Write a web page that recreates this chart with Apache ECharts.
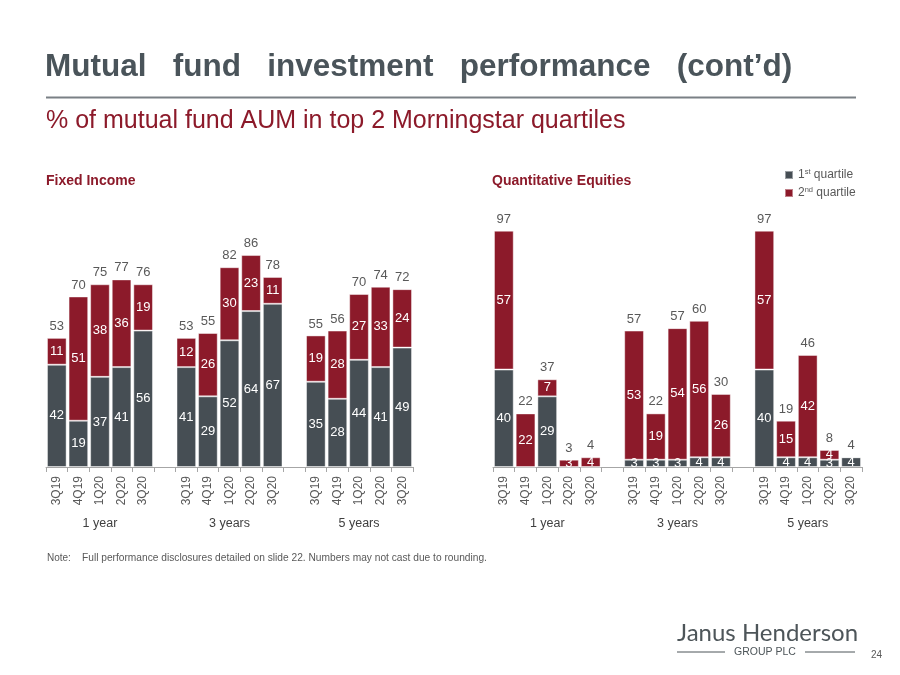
<!DOCTYPE html>
<html>
<head>
<meta charset="utf-8">
<script src="https://cdn.jsdelivr.net/npm/echarts@6/dist/echarts.min.js"></script>
<style>html,body{margin:0;padding:0;background:#fff;}#c{width:900px;height:675px;}</style>
</head>
<body>
<div id="c"></div>
<script>
// ---- data ----
const quarters = ['3Q19', '4Q19', '1Q20', '2Q20', '3Q20'];
const horizons = ['1 year', '3 years', '5 years'];

// Fixed Income (per horizon: 1 year, 3 years, 5 years)
const fiFirst  = [[42, 19, 37, 41, 56], [41, 29, 52, 64, 67], [35, 28, 44, 41, 49]];
const fiSecond = [[11, 51, 38, 36, 19], [12, 26, 30, 23, 11], [19, 28, 27, 33, 24]];
const fiTotal  = [[53, 70, 75, 77, 76], [53, 55, 82, 86, 78], [55, 56, 70, 74, 72]];

// Quantitative Equities
const qeFirst  = [[40, 0, 29, 0, 0], [3, 3, 3, 4, 4], [40, 4, 4, 3, 4]];
const qeSecond = [[57, 22, 7, 3, 4], [53, 19, 54, 56, 26], [57, 15, 42, 4, 0]];
const qeTotal  = [[97, 22, 37, 3, 4], [57, 22, 57, 60, 30], [97, 19, 46, 8, 4]];

const seriesNames = ['1st quartile', '2nd quartile'];

// ---- helpers ----
function flat(groups) {
  const out = [];
  groups.forEach((g, i) => {
    g.forEach(v => out.push(v));
    if (i < groups.length - 1) out.push(null);
  });
  return out;
}
const cats = flat(horizons.map(() => quarters)).map(v => v == null ? '' : v);
const groupCats = flat(horizons.map(h => quarters.map((q, i) => i === 2 ? h : ''))).map(v => v == null ? '' : v);

const GRAY = '#464e54', RED = '#8c1a2a', TXT = '#595959';

function xAxes(gi) {
  return [{
    type: 'category', gridIndex: gi, data: cats, position: 'bottom',
    axisLine: { lineStyle: { color: '#a6a6a6', width: 1 } },
    axisTick: { show: true, length: 5, lineStyle: { color: '#a6a6a6' } },
    axisLabel: { rotate: 90, interval: 0, fontSize: 12, color: TXT, margin: 9, fontFamily: 'Liberation Sans' }
  }, {
    type: 'category', gridIndex: gi, data: groupCats, position: 'bottom', offset: 0,
    axisLine: { show: false }, axisTick: { show: false },
    axisLabel: { interval: 0, fontSize: 12.5, color: '#404040', margin: 50, fontFamily: 'Liberation Sans' }
  }];
}
function yAxis(gi) {
  return { type: 'value', gridIndex: gi, min: 0, max: 110, show: false, splitLine: { show: false } };
}
function stackSeries(first, second, total, xi, yi, st) {
  const lbl = { show: true, position: 'inside', color: '#fff', fontSize: 13, fontFamily: 'Liberation Sans',
    formatter: p => (p.value ? String(p.value) : '') };
  const item = c => ({ color: c, borderColor: 'rgba(255,255,255,0.45)', borderWidth: 1 });
  const totals = flat(total);
  return [{
    name: seriesNames[0], type: 'bar', stack: st, xAxisIndex: xi, yAxisIndex: yi,
    data: flat(first), itemStyle: item(GRAY), label: lbl, barCategoryGap: '9%'
  }, {
    name: seriesNames[1], type: 'bar', stack: st, xAxisIndex: xi, yAxisIndex: yi,
    data: flat(second), itemStyle: item(RED), label: lbl, barCategoryGap: '9%'
  }, {
    name: 'total', type: 'bar', stack: st, xAxisIndex: xi, yAxisIndex: yi,
    data: totals.map(v => v == null ? null : 0), itemStyle: { color: 'transparent' },
    label: { show: true, position: 'top', distance: 5, color: TXT, fontSize: 13, fontFamily: 'Liberation Sans',
      formatter: p => String(totals[p.dataIndex]) },
    barCategoryGap: '9%', silent: true
  }];
}

const chart = echarts.init(document.getElementById('c'), null, { renderer: 'canvas' });
chart.setOption({
  animation: false,
  textStyle: { fontFamily: 'Liberation Sans' },
  grid: [
    { left: 46, width: 367, top: 199, height: 268 },
    { left: 493, width: 369, top: 199, height: 268 }
  ],
  xAxis: [...xAxes(0), ...xAxes(1)],
  yAxis: [yAxis(0), yAxis(1)],
  legend: {
    data: seriesNames, orient: 'vertical', left: 779, top: 163, itemGap: 5,
    itemWidth: 8, itemHeight: 8, icon: 'rect',
    textStyle: { fontSize: 12, color: TXT, fontFamily: 'Liberation Sans',
      rich: { n: { fontSize: 12, color: TXT }, s: { fontSize: 7.5, color: TXT, padding: [0, 0, 6, 0] } } },
    formatter: n => n === seriesNames[0] ? '{n|1}{s|st}{n| quartile}' : '{n|2}{s|nd}{n| quartile}'
  },
  series: [
    ...stackSeries(fiFirst, fiSecond, fiTotal, 0, 0, 'fi'),
    ...stackSeries(qeFirst, qeSecond, qeTotal, 2, 1, 'qe')
  ],
  graphic: [
    { type: 'text', left: 45, top: 51, style: { text: 'Mutual   fund   investment   performance   (cont\u2019d)', font: 'bold 31.5px "Liberation Sans"', fill: '#4a545a' } },
    { type: 'line', shape: { x1: 46, y1: 97.5, x2: 856, y2: 97.5 }, style: { stroke: '#7a8085', lineWidth: 2 } },
    { type: 'text', left: 46, top: 109, style: { text: '% of mutual fund AUM in top 2 Morningstar quartiles', font: '25px "Liberation Sans"', fill: RED } },
    { type: 'text', left: 46, top: 174, style: { text: 'Fixed Income', font: 'bold 14px "Liberation Sans"', fill: RED } },
    { type: 'text', left: 492, top: 174, style: { text: 'Quantitative Equities', font: 'bold 14px "Liberation Sans"', fill: RED } },
    { type: 'text', left: 47, top: 553, style: { text: 'Note:', font: '10px "Liberation Sans"', fill: TXT } },
    { type: 'text', left: 82, top: 553, style: { text: 'Full performance disclosures detailed on slide 22. Numbers may not cast due to rounding.', font: '10.2px "Liberation Sans"', fill: TXT } },
    { type: 'text', left: 677, top: 621, style: { text: 'Janus Henderson', font: '24px Lato', fill: '#4d5559' } },
    { type: 'line', shape: { x1: 677, y1: 652, x2: 725, y2: 652 }, style: { stroke: '#4d5559', lineWidth: 1 } },
    { type: 'text', x: 765, y: 652, style: { text: 'GROUP PLC', font: '10.5px "Liberation Sans"', fill: '#4d5559', align: 'center', verticalAlign: 'middle' } },
    { type: 'line', shape: { x1: 805, y1: 652, x2: 855, y2: 652 }, style: { stroke: '#4d5559', lineWidth: 1 } },
    { type: 'text', left: 871, top: 650, style: { text: '24', font: '10px "Liberation Sans"', fill: TXT } }
  ]
});
</script>
</body>
</html>
